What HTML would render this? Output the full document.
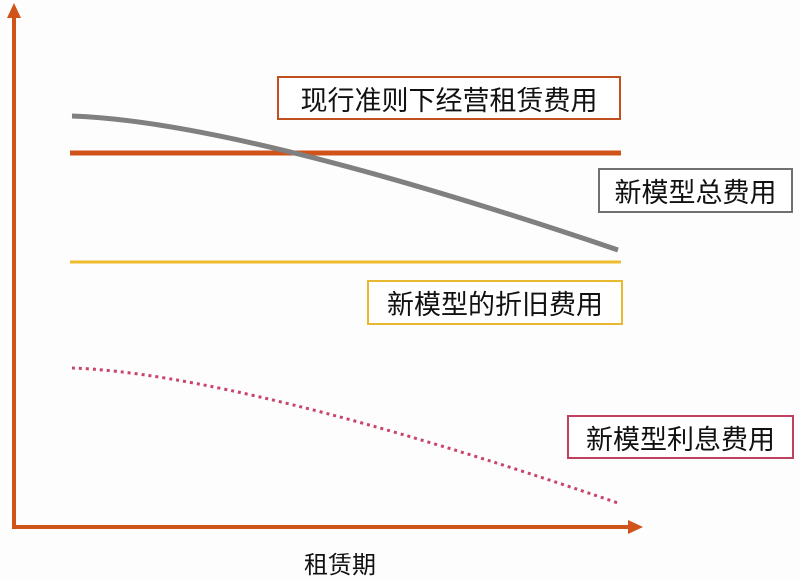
<!DOCTYPE html>
<html><head><meta charset="utf-8"><style>
body{margin:0;width:800px;height:580px;background:#fdfdfd;overflow:hidden}
svg{position:absolute;left:0;top:0}
.b{position:absolute;box-sizing:border-box;background:#fff;border:2px solid;font-family:"Liberation Sans","Noto Sans CJK SC",sans-serif;font-size:27px;color:#111;display:flex;align-items:center;justify-content:center;white-space:nowrap}
</style></head><body>
<svg width="800" height="580">
<line x1="14" y1="528" x2="14" y2="18" stroke="#d0531a" stroke-width="4"/>
<polygon points="14,3 7,18 21,18" fill="#d0531a"/>
<line x1="12" y1="527" x2="628" y2="527" stroke="#d0531a" stroke-width="4"/>
<polygon points="643,527 628,520 628,534" fill="#d0531a"/>
<line x1="70" y1="153" x2="621" y2="153" stroke="#d0531a" stroke-width="5"/>
<line x1="70" y1="262" x2="621" y2="262" stroke="#eebc2c" stroke-width="3"/>
<path d="M72,116 Q240,122 618,250" fill="none" stroke="#808080" stroke-width="5"/>
<path d="M72,368 Q240,374 618,503" fill="none" stroke="#c8446a" stroke-width="3" stroke-dasharray="3,4"/>
<text x="340" y="573" font-family="Liberation Sans,Noto Sans CJK SC,sans-serif" font-size="24" text-anchor="middle" fill="#111">租赁期</text>
</svg>
<div class="b" style="left:277px;top:76px;width:344px;height:44px;border-color:#c05020">现行准则下经营租赁费用</div>
<div class="b" style="left:598px;top:168px;width:195px;height:45px;border-color:#707070">新模型总费用</div>
<div class="b" style="left:367px;top:280px;width:256px;height:45px;border-color:#e8b830">新模型的折旧费用</div>
<div class="b" style="left:567px;top:415px;width:227px;height:44px;border-color:#c04060">新模型利息费用</div>
</body></html>
